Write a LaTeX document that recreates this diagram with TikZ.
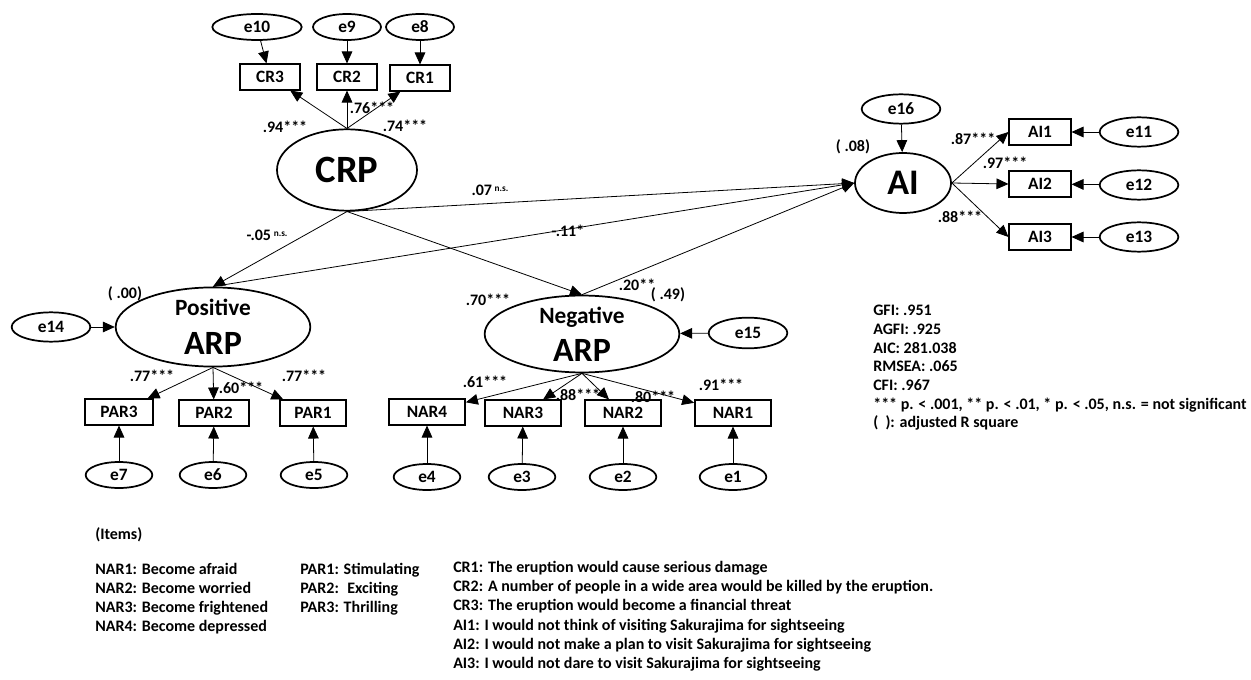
\documentclass[tikz,border=0pt]{standalone}
\usepackage{fontspec}
\setmainfont{Carlito}
\usetikzlibrary{arrows.meta, positioning, shapes.geometric}

\begin{document}
\begin{tikzpicture}[x=0.75pt, y=-0.75pt,
        font=\bfseries\fontsize{12}{14}\selectfont,
        err/.style={ellipse, draw, line width=1.3pt, inner sep=0pt,
                    font=\bfseries\fontsize{13}{14}\selectfont,
                    minimum width=50pt, minimum height=19.5pt},
        lat/.style={ellipse, draw, line width=1.3pt, inner sep=0pt, align=center},
        obs/.style={rectangle, draw, line width=1.3pt, inner sep=0pt,
                    font=\bfseries\fontsize{13}{14}\selectfont,
                    minimum width=46pt, minimum height=19pt},
        arr/.style={-{Triangle[length=9pt,width=8pt]}, line width=0.6pt},
        coef/.style={inner sep=0pt},
        note/.style={inner sep=0pt, align=left, anchor=north west,
                     font=\bfseries\fontsize{12}{14.2}\selectfont}]
      \useasboundingbox (0,0) rectangle (1251,680);
      % latent variables
      \node[lat, minimum width=105pt, minimum height=61pt] (CRP) at (347,170)
           {\fontsize{29}{30}\selectfont CRP};
      \node[lat, minimum width=72pt, minimum height=45pt] (AI) at (903,183)
           {\fontsize{27}{28}\selectfont AI};
      \node[lat, minimum width=146pt, minimum height=55pt] (PosARP) at (213,327)
           {\fontsize{17.5}{18}\selectfont Positive\\[12pt]\fontsize{25.5}{26}\selectfont ARP};
      \node[lat, minimum width=146pt, minimum height=55pt] (NegARP) at (582,334)
           {\fontsize{17.5}{18}\selectfont Negative\\[8pt]\fontsize{25.5}{26}\selectfont ARP};
      % observed items
      \node[obs, minimum width=45pt] (CR3) at (270,77) {CR3};
      \node[obs, minimum width=45pt] (CR2) at (347,77) {CR2};
      \node[obs, minimum width=45pt] (CR1) at (420,78) {CR1};
      \node[obs] (AI1) at (1040,132) {AI1};
      \node[obs] (AI2) at (1040,184) {AI2};
      \node[obs] (AI3) at (1040,237) {AI3};
      \node[obs, minimum width=51pt] (PAR3) at (119,412) {PAR3};
      \node[obs, minimum width=53pt] (PAR2) at (214,413) {PAR2};
      \node[obs, minimum width=50pt] (PAR1) at (313,413) {PAR1};
      \node[obs, minimum width=57pt] (NAR4) at (427,412) {NAR4};
      \node[obs, minimum width=57pt] (NAR3) at (523,413) {NAR3};
      \node[obs, minimum width=57pt] (NAR2) at (623,413) {NAR2};
      \node[obs, minimum width=57pt] (NAR1) at (733,413) {NAR1};
      % error terms
      \node[err, minimum width=67pt] (e10) at (257,27) {e10};
      \node[err, minimum width=51pt] (e9) at (347,27) {e9};
      \node[err, minimum width=51pt] (e8) at (420,27) {e8};
      \node[err, minimum width=59pt, minimum height=22pt] (e16) at (901,109) {e16};
      \node[err, minimum width=59pt, minimum height=22pt] (e11) at (1139,132) {e11};
      \node[err, minimum width=59pt, minimum height=22pt] (e12) at (1139,185) {e12};
      \node[err, minimum width=59pt, minimum height=22pt] (e13) at (1139,237) {e13};
      \node[err, minimum width=59pt, minimum height=22pt] (e14) at (51,327) {e14};
      \node[err, minimum width=59pt, minimum height=23pt] (e15) at (748,333) {e15};
      \node[err] (e7) at (119,475) {e7};
      \node[err] (e6) at (213,475) {e6};
      \node[err] (e5) at (314,475) {e5};
      \node[err] (e4) at (427,477) {e4};
      \node[err] (e3) at (522,477) {e3};
      \node[err] (e2) at (623,477) {e2};
      \node[err] (e1) at (733,477) {e1};
      % paths between latent variables
      \draw[arr] (CRP.south) -- (PosARP.north);
      \draw[arr] (CRP.south) -- (NegARP.north);
      \draw[arr] (CRP.south) -- (AI.west);
      \draw[arr] (PosARP.north) -- (AI.west);
      \draw[arr] (NegARP.north) -- (AI.west);
      % loadings
      \draw[arr] (CRP.north) -- (CR3);
      \draw[arr] (CRP.north) -- (CR2);
      \draw[arr] (CRP.north) -- (CR1);
      \draw[arr] (AI.east) -- (AI1.west);
      \draw[arr] (AI.east) -- (AI2.west);
      \draw[arr] (AI.east) -- (AI3.west);
      \draw[arr] (PosARP.south) -- (PAR3);
      \draw[arr] (PosARP.south) -- (PAR2);
      \draw[arr] (PosARP.south) -- (PAR1);
      \draw[arr] (NegARP.south) -- (NAR4);
      \draw[arr] (NegARP.south) -- (NAR3);
      \draw[arr] (NegARP.south) -- (NAR2);
      \draw[arr] (NegARP.south) -- (NAR1);
      % errors
      \draw[arr] (e10) -- (CR3);
      \draw[arr] (e9) -- (CR2);
      \draw[arr] (e8) -- (CR1);
      \draw[arr] (e16) -- (AI);
      \draw[arr] (e11) -- (AI1);
      \draw[arr] (e12) -- (AI2);
      \draw[arr] (e13) -- (AI3);
      \draw[arr] (e14) -- (PosARP);
      \draw[arr] (e15) -- (NegARP);
      \draw[arr] (e7) -- (PAR3);
      \draw[arr] (e6) -- (PAR2);
      \draw[arr] (e5) -- (PAR1);
      \draw[arr] (e4) -- (NAR4);
      \draw[arr] (e3) -- (NAR3);
      \draw[arr] (e2) -- (NAR2);
      \draw[arr] (e1) -- (NAR1);
      % coefficients
      \node[coef] (cCR3) at (285,127) {.94***};
      \node[coef] (cCR2) at (372,108) {.76***};
      \node[coef] (cCR1) at (405,126) {.74***};
      \node[coef] (rAI) at (853,147) {( .08)};
      \node[coef] (cAI1) at (973,139) {.87***};
      \node[coef] (cAI2) at (1005,163) {.97***};
      \node[coef] (cAI3) at (960,217) {.88***};
      \node[coef] (rPos) at (125,294) {( .00)};
      \node[coef] (cPAR3) at (152,376) {.77***};
      \node[coef] (cPAR2) at (241,388) {.60***};
      \node[coef] (cPAR1) at (304,376) {.77***};
      \node[coef] (rNeg) at (668,295) {( .49)};
      \node[coef] (cNAR4) at (485,382) {.61***};
      \node[coef] (cNAR3) at (578,395) {.88***};
      \node[coef] (cNAR2) at (653,397) {.80***};
      \node[coef] (cNAR1) at (721,385) {.91***};
      \node[coef] (cCrpAi) at (490,190) {.07\,\raisebox{2.5pt}{\fontsize{7}{8}\selectfont n.s.}};
      \node[coef] (cPosAi) at (568,231) {-.11*};
      \node[coef] (cCrpNeg) at (488,300) {.70***};
      \node[coef] (cNegAi) at (637,285) {.20**};
      \node[coef] (cCrpPos) at (267,235) {-.05\,\raisebox{2.5pt}{\fontsize{7}{8}\selectfont n.s.}};
      % fit indices
      \node[note, font=\bfseries\fontsize{12}{14}\selectfont] (fit) at (873,305)
           {GFI: .951\\ AGFI: .925\\ AIC: 281.038\\ RMSEA: .065\\ CFI: .967\\
            *** p. < .001, ** p. < .01, * p. < .05, n.s. = not significant\\
            (\ \ ): adjusted R square};
      % item legend
      \node[inner sep=0pt, anchor=west] (items) at (95,535) {(Items)};
      \node[note] (narlist) at (95,563)
           {NAR1: Become afraid\\ NAR2: Become worried\\ NAR3: Become frightened\\
            NAR4: Become depressed};
      \node[note] (parlist) at (300,563)
           {PAR1: Stimulating\\ PAR2: \ Exciting\\ PAR3: Thrilling};
      \node[note] (crlist) at (453,561)
           {CR1: The eruption would cause serious damage\\
            CR2: A number of people in a wide area would be killed by the eruption.\\
            CR3: The eruption would become a financial threat};
      \node[note] (ailist) at (453,619)
           {AI1: I would not think of visiting Sakurajima for sightseeing\\
            AI2: I would not make a plan to visit Sakurajima for sightseeing\\
            AI3: I would not dare to visit Sakurajima for sightseeing};
    \end{tikzpicture}
\end{document}
